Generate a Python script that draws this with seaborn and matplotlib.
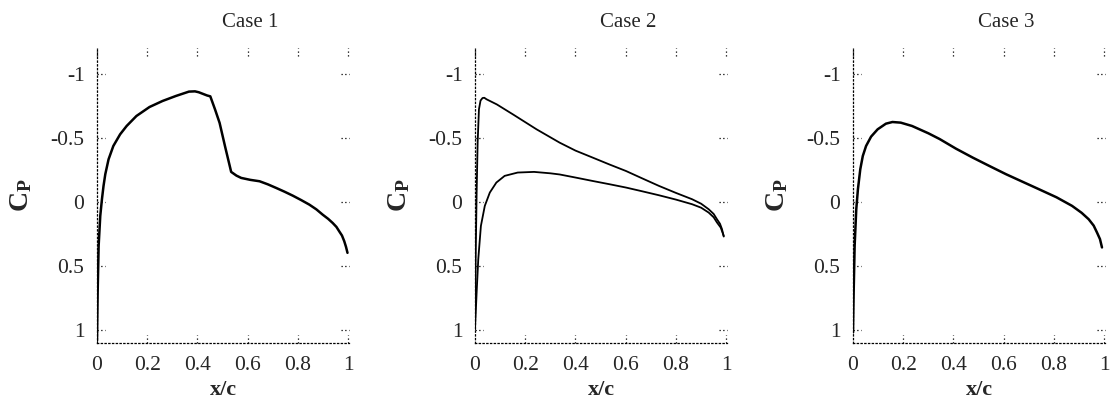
import matplotlib
matplotlib.use("Agg")
import matplotlib.pyplot as plt
import seaborn as sns
import pandas as pd

# Case 1 (single curve, upper and lower surfaces coincide)
case1_x = [0.0, 0.0026, 0.0065, 0.013, 0.0196, 0.026, 0.033, 0.046, 0.065, 0.092, 0.118, 0.157,
           0.209, 0.261, 0.314, 0.366, 0.39, 0.405, 0.438, 0.451, 0.47, 0.488, 0.51, 0.534,
           0.555, 0.574, 0.61, 0.647, 0.68, 0.713, 0.746, 0.779, 0.812, 0.845, 0.873, 0.898,
           0.92, 0.938, 0.953, 0.964, 0.975, 0.984, 0.991, 0.997]
case1_cp = [1.083, 0.706, 0.343, 0.109, -0.02, -0.125, -0.216, -0.332, -0.436, -0.527, -0.592,
            -0.67, -0.74, -0.787, -0.826, -0.86, -0.862, -0.855, -0.83, -0.823, -0.72, -0.616,
            -0.43, -0.234, -0.205, -0.187, -0.172, -0.161, -0.137, -0.109, -0.08, -0.049,
            -0.015, 0.021, 0.058, 0.099, 0.132, 0.164, 0.195, 0.229, 0.262, 0.306, 0.35, 0.397]

# Case 2 upper surface
case2_up_x = [0.0, 0.0026, 0.0065, 0.0105, 0.0157, 0.022, 0.03, 0.037, 0.046, 0.087, 0.153,
              0.245, 0.337, 0.40, 0.469, 0.535, 0.601, 0.665, 0.732, 0.80, 0.864, 0.90, 0.93,
              0.95, 0.963, 0.975, 0.983, 0.99]
case2_up_cp = [0.992, 0.447, -0.073, -0.462, -0.722, -0.79, -0.81, -0.812, -0.80, -0.76, -0.68,
               -0.566, -0.462, -0.40, -0.345, -0.292, -0.241, -0.184, -0.125, -0.07, -0.021,
               0.014, 0.057, 0.094, 0.135, 0.17, 0.212, 0.27]
# Case 2 lower surface
case2_lo_x = [0.0, 0.0065, 0.013, 0.0235, 0.039, 0.059, 0.085, 0.118, 0.17, 0.235, 0.30, 0.337,
              0.40, 0.469, 0.535, 0.601, 0.665, 0.732, 0.80, 0.864, 0.90, 0.93, 0.95, 0.963,
              0.978, 0.99]
case2_lo_cp = [0.992, 0.706, 0.447, 0.187, 0.031, -0.073, -0.151, -0.203, -0.229, -0.234, -0.223,
               -0.214, -0.19, -0.163, -0.138, -0.112, -0.083, -0.052, -0.018, 0.018, 0.045,
               0.083, 0.12, 0.16, 0.2, 0.265]

# Case 3
case3_x = [0.0, 0.0026, 0.0065, 0.013, 0.0196, 0.029, 0.039, 0.052, 0.072, 0.098, 0.131, 0.157,
           0.19, 0.235, 0.30, 0.345, 0.41, 0.477, 0.543, 0.609, 0.675, 0.74, 0.81, 0.872,
           0.91, 0.938, 0.958, 0.971, 0.983, 0.991]
case3_cp = [1.018, 0.706, 0.343, 0.057, -0.099, -0.255, -0.358, -0.436, -0.509, -0.566, -0.61,
            -0.623, -0.618, -0.592, -0.535, -0.49, -0.415, -0.345, -0.28, -0.216, -0.157,
            -0.099, -0.036, 0.031, 0.085, 0.135, 0.185, 0.238, 0.29, 0.355]

titles = ["Case 1", "Case 2", "Case 3"]
x_ticks = [0, 0.2, 0.4, 0.6, 0.8, 1.0]
x_tick_labels = ["0", "0.2", "0.4", "0.6", "0.8", "1"]
y_ticks = [-1, -0.5, 0, 0.5, 1]
y_tick_labels = ["-1", "-0.5", "0", "0.5", "1"]

sns.set_style("white")
plt.rcParams["font.family"] = ["Liberation Serif", "DejaVu Serif"]
plt.rcParams["mathtext.fontset"] = "custom"
plt.rcParams["mathtext.rm"] = "Liberation Serif"
plt.rcParams["mathtext.bf"] = "Liberation Serif:bold"
plt.rcParams["mathtext.it"] = "Liberation Serif:italic"

fig = plt.figure(figsize=(11.2, 4.05), dpi=100)
lefts = [97, 475, 853]
axes = [fig.add_axes([l / 1120, 1 - 343 / 405, 252 / 1120, 295 / 405]) for l in lefts]

curves = [
    [(case1_x, case1_cp, 1.8)],
    [(case2_up_x, case2_up_cp, 1.3), (case2_lo_x, case2_lo_cp, 1.3)],
    [(case3_x, case3_cp, 1.8)],
]

dots = (0, (1, 2))
for ax, title, series in zip(axes, titles, curves):
    for xs, cps, lw in series:
        df = pd.DataFrame({"x/c": xs, "Cp": cps})
        sns.lineplot(data=df, x="x/c", y="Cp", ax=ax, color="black", lw=lw,
                     estimator=None, sort=False)
    ax.set_xlim(0, 1.003)
    ax.set_ylim(1.1, -1.2)
    ax.set_xticks(x_ticks)
    ax.set_xticklabels(x_tick_labels)
    ax.set_yticks(y_ticks)
    ax.set_yticklabels(y_tick_labels)
    ax.tick_params(length=0, labelsize=15.5)
    ax.tick_params(axis="y", pad=9)
    ax.tick_params(axis="x", pad=9.5)
    for s in ["top", "right"]:
        ax.spines[s].set_visible(False)
    for s in ["left", "bottom"]:
        ax.spines[s].set_linestyle(dots)
        ax.spines[s].set_linewidth(0.9)
        ax.spines[s].set_color("black")
    # dotted gnuplot-style ticks
    for xt in x_ticks[1:]:
        ax.axvline(xt, ymin=0.973, ymax=1, ls=dots, lw=0.9, color="black", clip_on=False)
        ax.axvline(xt, ymin=0, ymax=0.027, ls=dots, lw=0.9, color="black", clip_on=False)
    for yt in y_ticks:
        ax.axhline(yt, xmin=0, xmax=0.03, ls=dots, lw=0.9, color="black", clip_on=False)
        ax.axhline(yt, xmin=0.97, xmax=1, ls=dots, lw=0.9, color="black", clip_on=False)
    ax.axvline(0, ymin=0.973, ymax=1, ls=dots, lw=0.9, color="black", clip_on=False)
    ax.set_xlabel("x/c", fontsize=16, fontweight="bold")
    ax.xaxis.set_label_coords(0.5, -0.125)
    ax.set_ylabel(r"$\mathbf{C_P}$", fontsize=20)
    ax.yaxis.set_label_coords(-0.25, 0.5)
    ax.text(0.607, 1.088, title, transform=ax.transAxes, ha="center", va="center", fontsize=15)

fig.savefig("out.png", dpi=100)
